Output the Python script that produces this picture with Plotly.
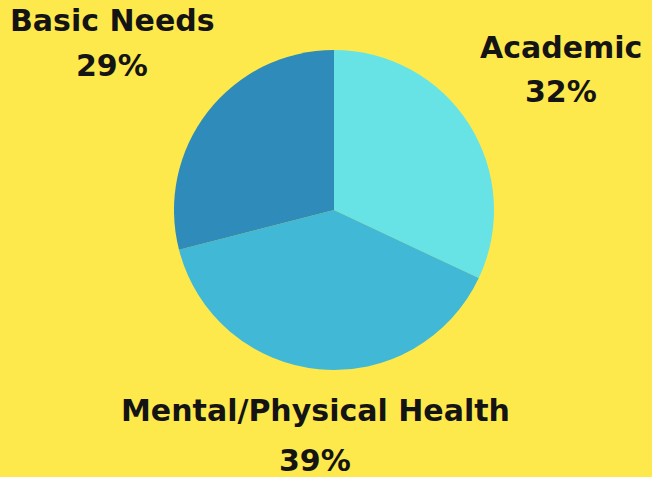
import plotly.graph_objects as go

labels = ["Academic", "Mental/Physical Health", "Basic Needs"]
values = [32, 39, 29]
colors = ["#67E3E6", "#41B8D6", "#2E8BBA"]

bg = "#FDE94C"

fig = go.Figure(go.Pie(
    labels=labels, values=values, sort=False, direction="clockwise", rotation=0,
    marker=dict(colors=colors, line=dict(width=0)),
    textinfo="none", hoverinfo="label+percent", showlegend=False,
    domain=dict(x=[174/652, 494/652], y=[107/477, 427/477]),
))

# label positions (paper coords) for name line and percent line
pos = {
    "Academic": ((561, 48), (561, 91)),
    "Mental/Physical Health": ((315, 410), (315, 460)),
    "Basic Needs": ((112, 21), (112, 66)),
}
font = dict(family="'DejaVu Sans', sans-serif", size=30, color="#141414", weight=700)
anns = []
for lab, val in zip(labels, values):
    (x1, y1), (x2, y2) = pos[lab]
    anns.append(dict(text=lab, x=x1/652, y=1 - y1/477, xref="paper", yref="paper",
                     showarrow=False, font=font, xanchor="center", yanchor="middle"))
    anns.append(dict(text=f"{val}%", x=x2/652, y=1 - y2/477, xref="paper", yref="paper",
                     showarrow=False, font=font, xanchor="center", yanchor="middle"))

fig.update_layout(
    width=652, height=477, margin=dict(l=0, r=0, t=0, b=0),
    paper_bgcolor=bg, plot_bgcolor=bg, annotations=anns,
)
fig.write_html("out.html", config={"displayModeBar": False},
               post_script=f"document.body.style.margin='0';document.body.style.background='{bg}';")
